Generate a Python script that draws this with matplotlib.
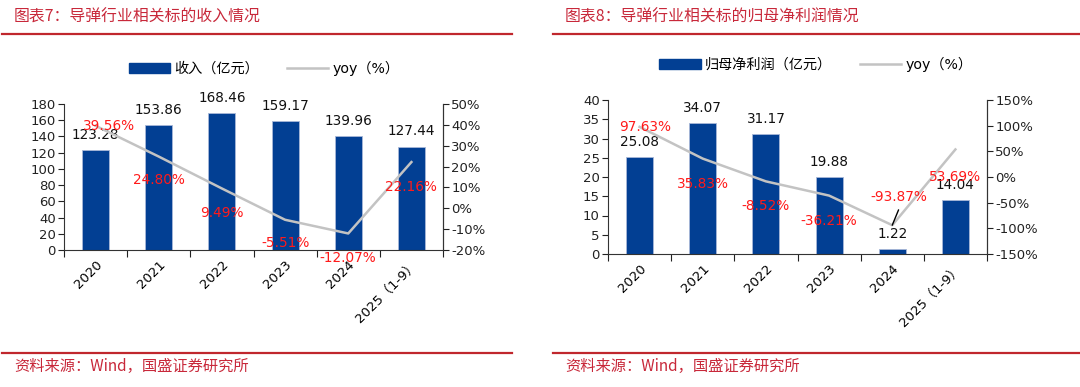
import matplotlib
matplotlib.use("Agg")
import matplotlib.pyplot as plt
from matplotlib.lines import Line2D
from matplotlib.patches import Patch

plt.rcParams['font.family'] = ['DejaVu Sans', 'Noto Sans CJK SC']
plt.rcParams['axes.unicode_minus'] = False

# data
years = ["2020", "2021", "2022", "2023", "2024", "2025（1-9）"]
revenue = [123.28, 153.86, 168.46, 159.17, 139.96, 127.44]
revenue_yoy = [39.56, 24.80, 9.49, -5.51, -12.07, 22.16]
profit = [25.08, 34.07, 31.17, 19.88, 1.22, 14.04]
profit_yoy = [97.63, 35.83, -8.52, -36.21, -93.87, 53.69]

BLUE = "#023f93"
GREY = "#c3c3c3"
LABEL_RED = "#ff1a1a"
TITLE_RED = "#c8283a"
FS = 9.5

fig = plt.figure(figsize=(10.8, 3.87), dpi=100)


def panel(rect, vals, yoy, ylim, yticks, y2lim, y2ticks, legend_name,
          legend_xy, yoy_offsets):
    ax = fig.add_axes(rect)
    x = list(range(len(vals)))
    ax.bar(x, vals, width=0.43, color=BLUE, edgecolor="#a8b8d8",
           linewidth=0.6, zorder=2)
    ax.set_xlim(-0.5, len(vals) - 0.5)
    ax.set_ylim(*ylim)
    ax.set_yticks(yticks)
    ax.tick_params(axis='y', labelsize=FS, length=4, direction='out',
                   colors="#222222", pad=2)
    # category boundary ticks
    ax.set_xticks([i - 0.5 for i in range(len(vals) + 1)])
    ax.set_xticklabels([])
    ax.tick_params(axis='x', which='major', length=5, direction='out',
                   colors="#222222")
    ax.set_xticks(x, minor=True)
    ax.set_xticklabels(years, minor=True, rotation=45, ha='right',
                       va='top', rotation_mode='anchor', fontsize=FS)
    ax.tick_params(axis='x', which='minor', length=0, pad=6)
    for s in ("left", "bottom", "right"):
        ax.spines[s].set_color("#333333")
        ax.spines[s].set_linewidth(0.8)
    ax.spines["top"].set_visible(False)
    for xi, v in zip(x, vals):
        ax.annotate(f"{v:.2f}", (xi, v), xytext=(0, 11),
                    textcoords='offset points', ha='center', va='center',
                    fontsize=FS + 0.3, color="#111111")

    ax2 = ax.twinx()
    ax2.plot(x, yoy, color=GREY, lw=1.8, zorder=3)
    ax2.set_ylim(*y2lim)
    ax2.set_yticks(y2ticks)
    ax2.set_yticklabels([f"{t}%" for t in y2ticks])
    ax2.tick_params(axis='y', labelsize=FS, length=4, direction='out',
                    colors="#222222", pad=2)
    for s in ("left", "bottom", "top"):
        ax2.spines[s].set_visible(False)
    ax2.spines["right"].set_color("#333333")
    ax2.spines["right"].set_linewidth(0.8)
    for xi, v, off in zip(x, yoy, yoy_offsets):
        ax2.annotate(f"{v:.2f}%", (xi, v), xytext=off,
                     textcoords='offset points', ha='center', va='center',
                     fontsize=FS + 0.3, color=LABEL_RED, zorder=4)

    handles = [Patch(facecolor=BLUE, edgecolor=BLUE),
               Line2D([], [], color=GREY, lw=1.8)]
    fig.legend(handles, [legend_name, "yoy（%）"], loc='center',
               bbox_to_anchor=legend_xy, ncol=2, frameon=False,
               fontsize=10.2, handlelength=2.9, handletextpad=0.3,
               columnspacing=2.0)
    return ax, ax2


panel([64 / 1080, 1 - 250 / 387, 379 / 1080, 146 / 387],
      revenue, revenue_yoy, (0, 180), list(range(0, 181, 20)),
      (-20, 50), list(range(-20, 51, 10)), "收入（亿元）",
      (264 / 1080, 1 - 68 / 387),
      [(10, 0), (0, -17), (0, -18), (0, -17), (0, -18), (0, -18)])

ax, ax2 = panel([608 / 1080, 1 - 254 / 387, 379 / 1080, 154 / 387],
                profit, profit_yoy, (0, 40), list(range(0, 41, 5)),
                (-150, 150), list(range(-150, 151, 50)), "归母净利润（亿元）",
                (816 / 1080, 1 - 64 / 387),
                [(4, 0), (0, -18), (0, -18), (0, -18), (5, 20), (0, -20)])
# leader line for the 2024 profit yoy label
ax2.annotate("", (4, profit_yoy[4]), xytext=(4.1, -64),
             arrowprops=dict(arrowstyle='-', color='black', lw=1.0,
                             shrinkA=0, shrinkB=0))

# titles, rules and source notes
for x0, x1, title in [(2, 512, "图表7：导弹行业相关标的收入情况"),
                      (553, 1080, "图表8：导弹行业相关标的归母净利润情况")]:
    fig.text((x0 + 12) / 1080, 1 - 17 / 387, title, color=TITLE_RED,
             fontsize=11.4, ha='left', va='center',
             family=['Noto Sans CJK SC', 'DejaVu Sans'])
    fig.add_artist(Line2D([x0 / 1080, x1 / 1080], [1 - 34 / 387] * 2,
                          color="#c0272d", lw=1.6))
    fig.add_artist(Line2D([x0 / 1080, x1 / 1080], [1 - 353 / 387] * 2,
                          color="#c0272d", lw=1.6))
    fig.text((x0 + 12) / 1080, 1 - 366 / 387, "资料来源：Wind，国盛证券研究所",
             color=TITLE_RED, fontsize=11, ha='left', va='center',
             family=['Noto Sans CJK SC', 'DejaVu Sans'])

fig.savefig("out.png", dpi=100)
